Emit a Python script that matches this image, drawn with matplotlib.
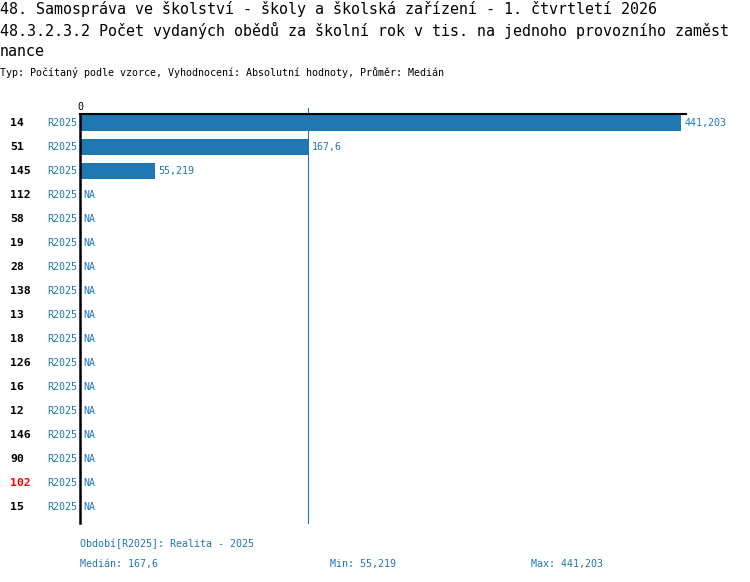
import numpy as np
import matplotlib
matplotlib.use("Agg")
from matplotlib import pyplot as plt
from matplotlib import transforms

plt.rcParams['font.family'] = ['DejaVu Sans Mono']

# data
row_ids = ["14", "51", "145", "112", "58", "19", "28", "138", "13", "18",
           "126", "16", "12", "146", "90", "102", "15"]
period = "R2025"
values = [441.203, 167.6, 55.219] + [np.nan] * 14
highlight = "102"

title1 = "48. Samospráva ve školství - školy a školská zařízení - 1. čtvrtletí 2026"
title2 = "48.3.2.3.2 Počet vydaných obědů za školní rok v tis. na jednoho provozního zaměst"
title3 = "nance"
subtitle = "Typ: Počítaný podle vzorce, Vyhodnocení: Absolutní hodnoty, Průměr: Medián"
legend_txt = "Období[R2025]: Realita - 2025"

blue = "#1f77b4"
W, H = 750, 582

def fs(px):
    return px * 72 / 100

def fmt(v):
    return ("%g" % v).replace(".", ",")

fig = plt.figure(figsize=(W / 100, H / 100), dpi=100)
ax = fig.add_axes([80 / W, 1 - 522.5 / H, 606 / W, (522.5 - 114) / H])

vals = np.array(values, dtype=float)
ypos = np.arange(len(row_ids))
ax.barh(ypos, np.nan_to_num(vals), height=0.64, color=blue)
ax.set_xlim(0, 444.9)
ax.set_ylim(16.625, -0.375)

med = np.nanmedian(vals)
ax.axvline(med, ymin=0, ymax=1 + 6 / 408.5, color=blue, lw=0.8, clip_on=False)

for s in ["right", "bottom"]:
    ax.spines[s].set_visible(False)
ax.spines["top"].set_linewidth(1.5)
ax.spines["left"].set_linewidth(1.8)
ax.set_xticks([])
ax.set_yticks([])

ax.text(0, 1.005, "0", transform=ax.transAxes, ha="center", va="bottom",
        fontsize=fs(10))

tr = transforms.blended_transform_factory(fig.transFigure, ax.transData)
for i, (rid, v) in enumerate(zip(row_ids, vals)):
    ax.text(10 / W, i, rid, transform=tr, ha="left", va="center",
            fontsize=fs(11.5), fontweight="bold",
            color="red" if rid == highlight else "black")
    ax.text(77.5 / W, i, period, transform=tr, ha="right", va="center",
            fontsize=fs(10), color=blue)
    lab = "NA" if np.isnan(v) else fmt(v)
    ax.annotate(lab, (0 if np.isnan(v) else v, i), xytext=(2.5, 0),
                textcoords="offset points", ha="left", va="center",
                fontsize=fs(10), color=blue)

fig.text(0, 1 - 9 / H, title1, ha="left", va="center", fontsize=fs(15))
fig.text(0, 1 - 30 / H, title2, ha="left", va="center", fontsize=fs(15))
fig.text(0, 1 - 52 / H, title3, ha="left", va="center", fontsize=fs(15))
fig.text(0, 1 - 73 / H, subtitle, ha="left", va="center", fontsize=fs(10))

fig.text(80 / W, 1 - 544 / H, legend_txt, ha="left", va="center",
         fontsize=fs(10), color=blue)
fig.text(80 / W, 1 - 564 / H, "Medián: " + fmt(med), ha="left", va="center",
         fontsize=fs(10), color=blue)
fig.text(330 / W, 1 - 564 / H, "Min: " + fmt(np.nanmin(vals)), ha="left",
         va="center", fontsize=fs(10), color=blue)
fig.text(531 / W, 1 - 564 / H, "Max: " + fmt(np.nanmax(vals)), ha="left",
         va="center", fontsize=fs(10), color=blue)

fig.savefig("out.png", dpi=100)
